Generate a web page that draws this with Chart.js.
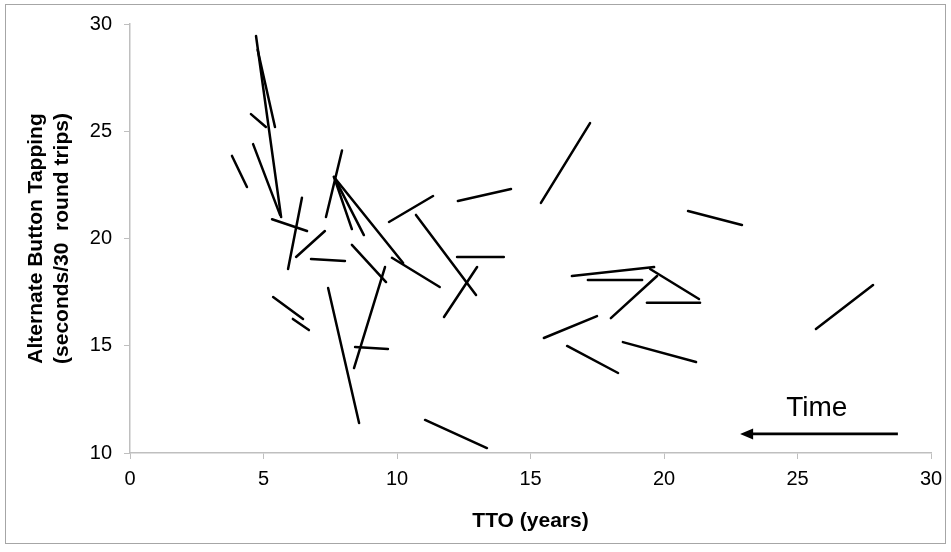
<!DOCTYPE html>
<html>
<head>
<meta charset="utf-8">
<script src="https://cdn.jsdelivr.net/npm/chart.js@4.4.0/dist/chart.umd.min.js"></script>
<style>
  html, body { margin: 0; padding: 0; background: #fff; }
</style>
</head>
<body>
<canvas id="chart" width="951" height="552"></canvas>
<script>
// each segment: one subject, first visit -> second visit
var startX = [4.72, 4.78, 4.53, 4.61, 3.82, 7.94, 7.64, 7.64, 7.64, 5.32, 6.44, 7.30, 6.78, 8.31, 9.55, 8.43, 7.42, 5.36, 6.10,
              11.05, 9.70, 10.71, 9.81, 12.25, 13.00, 12.28, 15.39, 16.55, 17.15, 19.48, 19.74, 19.36, 15.50, 16.37, 18.46, 20.90, 25.69];
var startY = [29.44, 28.80, 25.80, 24.40, 23.85, 24.10, 22.87, 22.87, 22.87, 20.90, 21.90, 20.35, 19.04, 19.70, 18.67, 14.94, 17.69, 17.27, 16.25,
              11.54, 20.77, 21.10, 19.10, 19.14, 18.67, 21.75, 21.66, 18.25, 18.07, 18.58, 18.25, 17.00, 15.36, 14.99, 15.17, 21.28, 15.78];
var endX   = [5.66, 5.43, 5.09, 5.62, 4.38, 7.34, 8.31, 8.76, 10.23, 6.63, 5.92, 6.22, 8.05, 9.59, 8.39, 9.66, 8.58, 6.48, 6.70,
              13.37, 11.35, 12.96, 11.60, 14.00, 11.76, 14.27, 17.23, 19.63, 19.18, 21.31, 18.01, 21.35, 17.49, 18.28, 21.20, 22.92, 27.83];
var endY   = [21.00, 25.20, 25.20, 21.10, 22.40, 21.00, 20.44, 20.16, 18.86, 20.35, 18.58, 19.14, 18.95, 17.97, 13.96, 14.85, 11.40, 16.25, 15.73,
              10.23, 21.98, 17.37, 17.74, 19.14, 16.34, 22.31, 25.38, 18.67, 18.07, 17.18, 16.29, 17.00, 16.38, 13.73, 14.24, 20.63, 17.83];

var xTicks = [0, 5, 10, 15, 20, 25, 30];
var yTicks = [10, 15, 20, 25, 30];

// "Time" arrow annotation
var arrowX = [28.76, 22.85];
var arrowY = 10.89;
var timeLabel = "Time";
var timeLabelX = 25.72;
var timeLabelY = 12.1;

var datasets = [];
for (var i = 0; i < startX.length; i++) {
    datasets.push({
        data: [{x: startX[i], y: startY[i]}, {x: endX[i], y: endY[i]}],
        borderColor: '#000',
        borderWidth: 2.5,
        pointRadius: 0,
        borderCapStyle: 'round'
    });
}
datasets.push({
    data: [{x: arrowX[0], y: arrowY}, {x: arrowX[1] + 0.3, y: arrowY}],
    borderColor: '#000',
    borderWidth: 2.6,
    pointRadius: 0
});

var frame = {
    id: 'frame',
    beforeDraw: function (chart) {
        var ctx = chart.ctx;
        ctx.save();
        ctx.fillStyle = '#fff';
        ctx.fillRect(0, 0, chart.width, chart.height);
        ctx.strokeStyle = '#a6a6a6';
        ctx.lineWidth = 1;
        ctx.strokeRect(5.5, 4.5, chart.width - 11, chart.height - 13);
        ctx.restore();
    }
};

var annot = {
    id: 'annot',
    afterDatasetsDraw: function (chart) {
        var ctx = chart.ctx;
        var xs = chart.scales.x, ys = chart.scales.y;
        var tipX = xs.getPixelForValue(arrowX[1]);
        var py = ys.getPixelForValue(arrowY);
        ctx.save();
        ctx.fillStyle = '#000';
        ctx.beginPath();
        ctx.moveTo(tipX, py);
        ctx.lineTo(tipX + 13, py - 5.5);
        ctx.lineTo(tipX + 13, py + 5.5);
        ctx.closePath();
        ctx.fill();
        ctx.font = '28px "Liberation Sans", Arial, sans-serif';
        ctx.textAlign = 'center';
        ctx.textBaseline = 'middle';
        ctx.fillText(timeLabel, xs.getPixelForValue(timeLabelX), ys.getPixelForValue(timeLabelY));
        ctx.restore();
    }
};

new Chart(document.getElementById('chart').getContext('2d'), {
    type: 'line',
    data: {datasets: datasets},
    plugins: [frame, annot],
    options: {
        responsive: false,
        animation: false,
        layout: {padding: {left: 0, right: 20, top: 24, bottom: 0}},
        plugins: {
            legend: {display: false},
            tooltip: {enabled: false}
        },
        scales: {
            x: {
                type: 'linear',
                min: 0,
                max: 30,
                afterBuildTicks: function (scale) {
                    scale.ticks = xTicks.map(function (v) { return {value: v}; });
                },
                afterFit: function (scale) { scale.height = 99; },
                grid: {drawOnChartArea: false, drawTicks: true, tickLength: 6, color: '#bfbfbf'},
                border: {display: true, color: '#bfbfbf', width: 1.5},
                ticks: {color: '#000', padding: 8, font: {family: '"Liberation Sans", Arial, sans-serif', size: 20}},
                title: {
                    display: true,
                    text: 'TTO (years)',
                    color: '#000',
                    padding: {top: 18, bottom: 18},
                    font: {family: '"Liberation Sans", Arial, sans-serif', size: 21, weight: 'bold'}
                }
            },
            y: {
                type: 'linear',
                min: 10,
                max: 30,
                afterBuildTicks: function (scale) {
                    scale.ticks = yTicks.map(function (v) { return {value: v}; });
                },
                afterFit: function (scale) { scale.width = 130; },
                grid: {drawOnChartArea: false, drawTicks: true, tickLength: 6, color: '#bfbfbf'},
                border: {display: true, color: '#bfbfbf', width: 1.5},
                ticks: {color: '#000', padding: 12, font: {family: '"Liberation Sans", Arial, sans-serif', size: 20}},
                title: {
                    display: true,
                    text: ['Alternate Button Tapping', '(seconds/30  round trips)'],
                    color: '#000',
                    padding: {top: 24, bottom: 24},
                    font: {family: '"Liberation Sans", Arial, sans-serif', size: 21, weight: 'bold', lineHeight: 1.2}
                }
            }
        }
    }
});
</script>
</body>
</html>
